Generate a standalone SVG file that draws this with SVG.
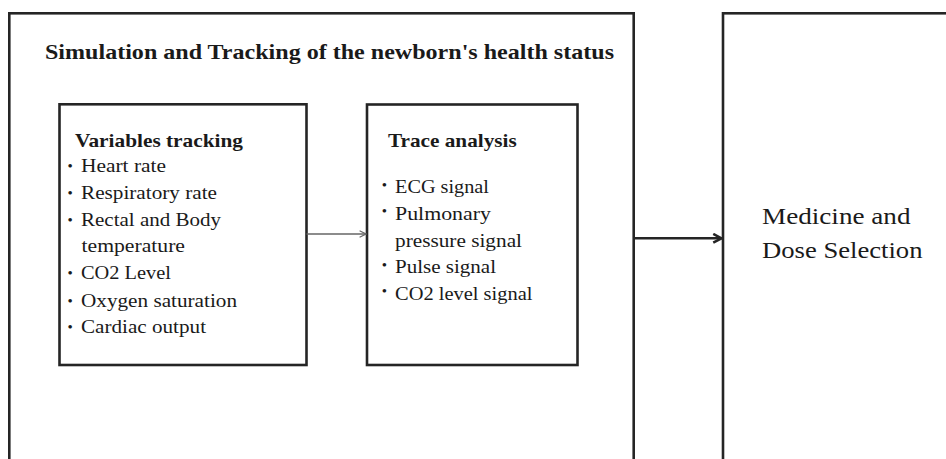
<svg xmlns="http://www.w3.org/2000/svg" width="946" height="459" viewBox="0 0 946 459">
<defs>
<style>
.box{fill:none;stroke:#252525;stroke-width:2.6}
.t{font-family:"Liberation Serif","Times New Roman",serif;fill:#1a1a1a}
.b{font-weight:bold}
.body{font-size:19.5px}
.bul{font-family:"Liberation Serif","Times New Roman",serif;font-size:15px;fill:#1a1a1a}
.thin{stroke:#666;stroke-width:1.3;fill:none}
.thick{stroke:#252525;stroke-width:2.6;fill:none}
</style>
<marker id="ah1" viewBox="0 0 10 10" refX="9" refY="5" markerWidth="8" markerHeight="8" markerUnits="userSpaceOnUse" orient="auto">
<path d="M1,1 L9,5 L1,9" fill="none" stroke="#666" stroke-width="1.4"/>
</marker>
<marker id="ah2" viewBox="0 0 10 10" refX="9" refY="5" markerWidth="11" markerHeight="11" markerUnits="userSpaceOnUse" orient="auto">
<path d="M1.5,1 L9,5 L1.5,9" fill="none" stroke="#252525" stroke-width="2.3"/>
</marker>
</defs>
<rect width="946" height="459" fill="#fff"/>

<g id="simulation">
<rect class="box" x="9.3" y="13.3" width="624.4" height="460"/>
<text class="t b" x="45" y="58.5" font-size="22" textLength="569" lengthAdjust="spacingAndGlyphs">Simulation and Tracking of the newborn's health status</text>
</g>

<g id="variables">
<rect class="box" x="59.5" y="104.3" width="247" height="260.7"/>
<text class="t b body" x="75" y="147.3" textLength="168" lengthAdjust="spacingAndGlyphs">Variables tracking</text>
<text class="bul" x="67.4" y="171.1">•</text>
<text class="t body" x="81" y="172.3" textLength="85" lengthAdjust="spacingAndGlyphs">Heart rate</text>
<text class="bul" x="67.4" y="197.8">•</text>
<text class="t body" x="81" y="199" textLength="136" lengthAdjust="spacingAndGlyphs">Respiratory rate</text>
<text class="bul" x="67.4" y="224.8">•</text>
<text class="t body" x="81" y="226" textLength="140" lengthAdjust="spacingAndGlyphs">Rectal and Body</text>
<text class="t body" x="81.5" y="251.7" textLength="103.5" lengthAdjust="spacingAndGlyphs">temperature</text>
<text class="bul" x="67.4" y="277.8">•</text>
<text class="t body" x="81" y="279" textLength="90" lengthAdjust="spacingAndGlyphs">CO2 Level</text>
<text class="bul" x="67.4" y="305.5">•</text>
<text class="t body" x="81" y="306.7" textLength="156" lengthAdjust="spacingAndGlyphs">Oxygen saturation</text>
<text class="bul" x="67.4" y="331.8">•</text>
<text class="t body" x="81" y="333" textLength="125" lengthAdjust="spacingAndGlyphs">Cardiac output</text>
</g>

<g id="trace">
<rect class="box" x="367" y="104.5" width="210.5" height="260.5"/>
<text class="t b body" x="388" y="146.7" textLength="128.7" lengthAdjust="spacingAndGlyphs">Trace analysis</text>
<text class="bul" x="381.8" y="189.6">•</text>
<text class="t body" x="395" y="193.3" textLength="94" lengthAdjust="spacingAndGlyphs">ECG signal</text>
<text class="bul" x="381.8" y="216.3">•</text>
<text class="t body" x="395" y="220" textLength="96" lengthAdjust="spacingAndGlyphs">Pulmonary</text>
<text class="t body" x="395" y="246.7" textLength="127" lengthAdjust="spacingAndGlyphs">pressure signal</text>
<text class="bul" x="381.8" y="269.6">•</text>
<text class="t body" x="395" y="273.3" textLength="101" lengthAdjust="spacingAndGlyphs">Pulse signal</text>
<text class="bul" x="381.8" y="296.3">•</text>
<text class="t body" x="395" y="300" textLength="137.5" lengthAdjust="spacingAndGlyphs">CO2 level signal</text>
</g>

<g id="medicine">
<rect class="box" x="723" y="13.3" width="240" height="460"/>
<text class="t" x="762" y="224.3" font-size="24" textLength="148.5" lengthAdjust="spacingAndGlyphs">Medicine and</text>
<text class="t" x="762" y="257.7" font-size="24" textLength="160.5" lengthAdjust="spacingAndGlyphs">Dose Selection</text>
</g>

<g id="connectors">
<line class="thin" x1="306.5" y1="234" x2="366" y2="234" marker-end="url(#ah1)"/>
<line class="thick" x1="634" y1="238.3" x2="721.5" y2="238.3" marker-end="url(#ah2)"/>
</g>
</svg>
